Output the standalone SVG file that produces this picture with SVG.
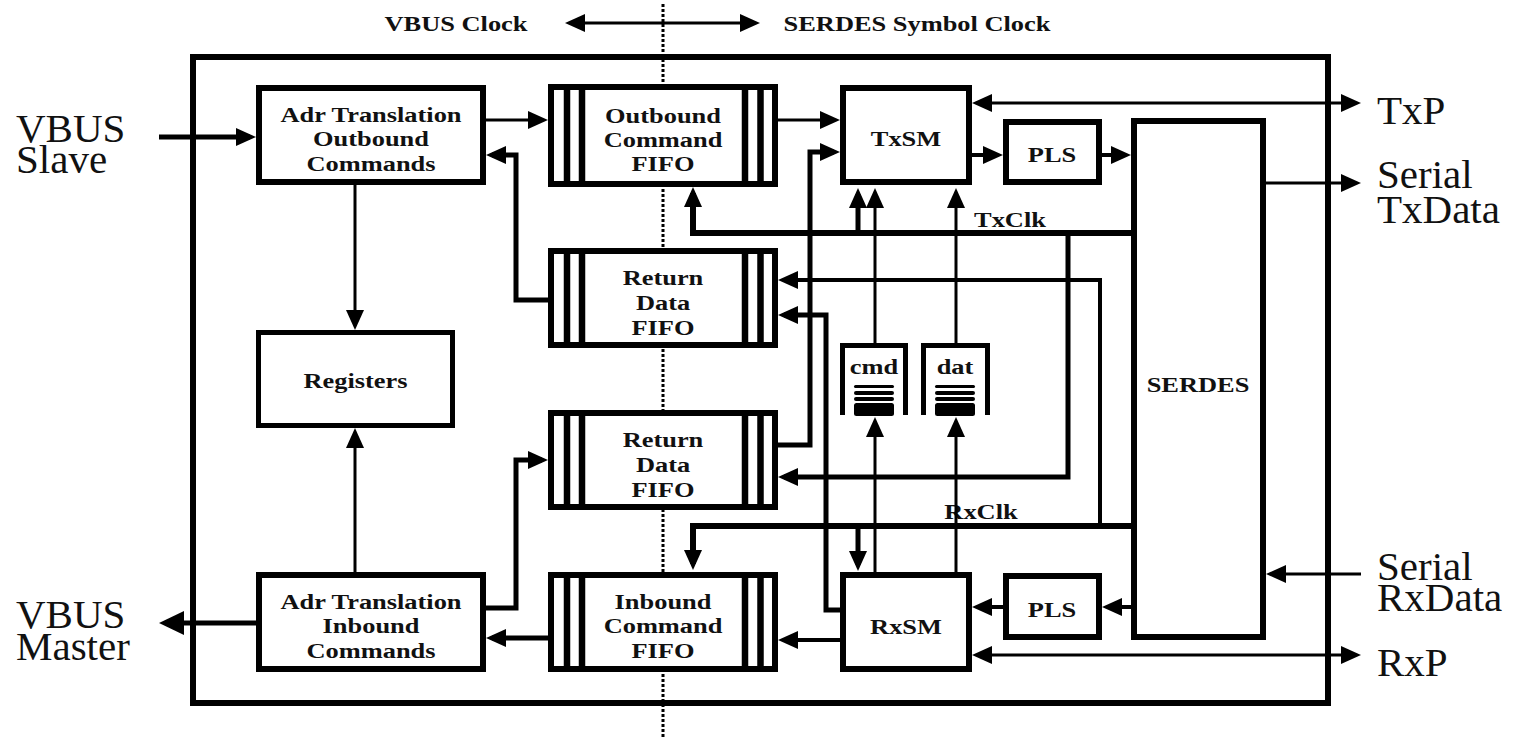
<svg xmlns="http://www.w3.org/2000/svg" xmlns:xlink="http://www.w3.org/1999/xlink" width="1513" height="738" viewBox="0 0 1513 738">
<style>
.box{fill:#fff;stroke:#000;stroke-width:6}
.bar{stroke:#000;stroke-width:6.5}
.lbl{font-family:"Liberation Serif","Times New Roman",serif;font-weight:bold;font-size:22px;fill:#111;text-anchor:middle}
.big{font-family:"Liberation Serif","Times New Roman",serif;font-size:41px;fill:#111}
.w{fill:none;stroke:#000;stroke-linejoin:miter}
.t3{stroke-width:3}.t4{stroke-width:4}.t5{stroke-width:5}.t6{stroke-width:6}
.a{marker-end:url(#ah)}
.aa{marker-start:url(#ah);marker-end:url(#ah)}
</style>
<defs>
<marker id="ah" markerUnits="userSpaceOnUse" markerWidth="20" markerHeight="18" viewBox="0 0 20 18" refX="14" refY="9" orient="auto-start-reverse"><path d="M0,0 L20,9 L0,18 z" fill="#000"/></marker>
<marker id="ahb" markerUnits="userSpaceOnUse" markerWidth="25" markerHeight="24" viewBox="0 0 25 24" refX="19" refY="12" orient="auto"><path d="M0,0 L25,12 L0,24 z" fill="#000"/></marker>
<g id="stk" fill="#000"><rect x="-20" y="0" width="40" height="3" rx="1.5"/><rect x="-20" y="6" width="40" height="4" rx="2"/><rect x="-20" y="12" width="40" height="4" rx="2"/><rect x="-20" y="18" width="40" height="13" rx="2.5"/></g>
</defs>
<rect width="1513" height="738" fill="#fff"/>
<!-- clock domain divider and title -->
<line x1="663" y1="4" x2="663" y2="738" stroke="#000" stroke-width="3" stroke-dasharray="3 2"/>
<text class="lbl" transform="translate(456,31) scale(1.2,1)">VBUS Clock</text>
<text class="lbl" transform="translate(917,31) scale(1.2,1)">SERDES Symbol Clock</text>
<!-- outer frame -->
<rect x="193" y="57" width="1135" height="646" fill="none" stroke="#000" stroke-width="6"/>
<!-- external labels -->
<text class="big" x="16" y="142">VBUS</text>
<text class="big" x="16" y="173">Slave</text>
<text class="big" x="16" y="628">VBUS</text>
<text class="big" x="16" y="660">Master</text>
<text class="big" x="1377" y="124">TxP</text>
<text class="big" x="1377" y="188">Serial</text>
<text class="big" x="1377" y="223">TxData</text>
<text class="big" x="1377" y="580">Serial</text>
<text class="big" x="1377" y="611">RxData</text>
<text class="big" x="1377" y="676">RxP</text>
<text class="lbl" transform="translate(1010,227) scale(1.2,1)">TxClk</text>
<text class="lbl" transform="translate(981,519) scale(1.2,1)">RxClk</text>
<g id="connectors">
<path class="w t3 aa" d="M571,23 H754"/>
<path class="w t5 a" d="M159,137 H250"/>
<path class="w t3 a" d="M486,120 H542"/>
<path class="w t3 a" d="M778,120 H834"/>
<path class="w t5 a" d="M548,300 H516 V155 H492"/>
<path class="w t3 a" d="M355,185 V324"/>
<path class="w t3 a" d="M355,572 V434"/>
<path class="w t5 a" d="M486,608 H516 V460 H542"/>
<path class="w t5 a" d="M548,638 H492"/>
<path class="w t5" d="M256,623 H165" marker-end="url(#ahb)"/>
<path class="w t5 a" d="M778,445 H810 V152 H834"/>
<path class="w t6 a" d="M1131,233 H693 V193"/>
<path class="w t5 a" d="M858,233 V194"/>
<path class="w t5 a" d="M1068,233 V477 H784"/>
<path class="w t3 a" d="M875,343 V194"/>
<path class="w t3 a" d="M956,343 V194"/>
<path class="w t3 aa" d="M978,103 H1355"/>
<path class="w t4 a" d="M972,155 H997"/>
<path class="w t4 a" d="M1102,155 H1125"/>
<path class="w t3 a" d="M1266,183 H1355"/>
<path class="w t4 a" d="M1100,526 V280 H784"/>
<path class="w t5 a" d="M840,610 H826 V315 H784"/>
<path class="w t6 a" d="M1131,526 H693 V564"/>
<path class="w t5 a" d="M858,526 V565"/>
<path class="w t3 a" d="M875,572 V423"/>
<path class="w t3 a" d="M956,572 V423"/>
<path class="w t4 a" d="M840,640 H784"/>
<path class="w t4 a" d="M1003,607 H978"/>
<path class="w t4 a" d="M1131,607 H1108"/>
<path class="w t3 a" d="M1361,574 H1272"/>
<path class="w t3 aa" d="M978,655 H1355"/>
</g>
<g id="adr-out">
<rect class="box" x="259" y="88" width="224" height="94"/>
<text class="lbl" transform="translate(371,122) scale(1.2,1)"><tspan x="0" y="0">Adr Translation</tspan><tspan x="0" y="24.5">Outbound</tspan><tspan x="0" y="49">Commands</tspan></text>
</g>
<g id="registers">
<rect class="box" x="258.5" y="332.5" width="194" height="93" style="stroke-width:5"/>
<text class="lbl" transform="translate(355.5,388) scale(1.2,1)">Registers</text>
</g>
<g id="adr-in">
<rect class="box" x="259" y="575" width="224" height="94"/>
<text class="lbl" transform="translate(371,609) scale(1.2,1)"><tspan x="0" y="0">Adr Translation</tspan><tspan x="0" y="24.5">Inbound</tspan><tspan x="0" y="49">Commands</tspan></text>
</g>
<g id="fifo-outbound">
<rect class="box" x="551" y="87" width="224" height="97"/>
<path class="bar" d="M567,84 V187 M582,84 V187 M745,84 V187 M760.5,84 V187"/>
<text class="lbl" transform="translate(663,123) scale(1.2,1)"><tspan x="0" y="0">Outbound</tspan><tspan x="0" y="24">Command</tspan><tspan x="0" y="48">FIFO</tspan></text>
</g>
<g id="fifo-return1">
<rect class="box" x="551" y="251" width="224" height="94"/>
<path class="bar" d="M567,248 V348 M582,248 V348 M745,248 V348 M760.5,248 V348"/>
<text class="lbl" transform="translate(663,285) scale(1.2,1)"><tspan x="0" y="0">Return</tspan><tspan x="0" y="25">Data</tspan><tspan x="0" y="50">FIFO</tspan></text>
</g>
<g id="fifo-return2">
<rect class="box" x="551" y="413" width="224" height="94"/>
<path class="bar" d="M567,410 V510 M582,410 V510 M745,410 V510 M760.5,410 V510"/>
<text class="lbl" transform="translate(663,447) scale(1.2,1)"><tspan x="0" y="0">Return</tspan><tspan x="0" y="25">Data</tspan><tspan x="0" y="50">FIFO</tspan></text>
</g>
<g id="fifo-inbound">
<rect class="box" x="551" y="575" width="224" height="94"/>
<path class="bar" d="M567,572 V672 M582,572 V672 M745,572 V672 M760.5,572 V672"/>
<text class="lbl" transform="translate(663,609) scale(1.2,1)"><tspan x="0" y="0">Inbound</tspan><tspan x="0" y="24.5">Command</tspan><tspan x="0" y="49">FIFO</tspan></text>
</g>
<g id="txsm">
<rect class="box" x="843" y="88" width="126" height="94"/>
<text class="lbl" transform="translate(906,146) scale(1.2,1)">TxSM</text>
</g>
<g id="rxsm">
<rect class="box" x="843" y="575" width="126" height="94"/>
<text class="lbl" transform="translate(906,634) scale(1.2,1)">RxSM</text>
</g>
<g id="pls-tx">
<rect class="box" x="1006" y="122" width="93" height="60"/>
<text class="lbl" transform="translate(1052,162) scale(1.2,1)">PLS</text>
</g>
<g id="pls-rx">
<rect class="box" x="1006" y="576" width="93" height="61"/>
<text class="lbl" transform="translate(1052,617) scale(1.2,1)">PLS</text>
</g>
<g id="serdes">
<rect class="box" x="1134" y="121" width="129" height="516"/>
<text class="lbl" transform="translate(1198,392) scale(1.2,1)">SERDES</text>
</g>
<g id="cmd-queue">
<path class="w t5" d="M842.5,415 V345.5 H905.5 V415"/>
<text class="lbl" transform="translate(874,374) scale(1.2,1)">cmd</text>
<use href="#stk" xlink:href="#stk" x="874" y="385"/>
</g>
<g id="dat-queue">
<path class="w t5" d="M923.5,415 V345.5 H987.5 V415"/>
<text class="lbl" transform="translate(955,374) scale(1.2,1)">dat</text>
<use href="#stk" xlink:href="#stk" x="955" y="385"/>
</g>
</svg>
